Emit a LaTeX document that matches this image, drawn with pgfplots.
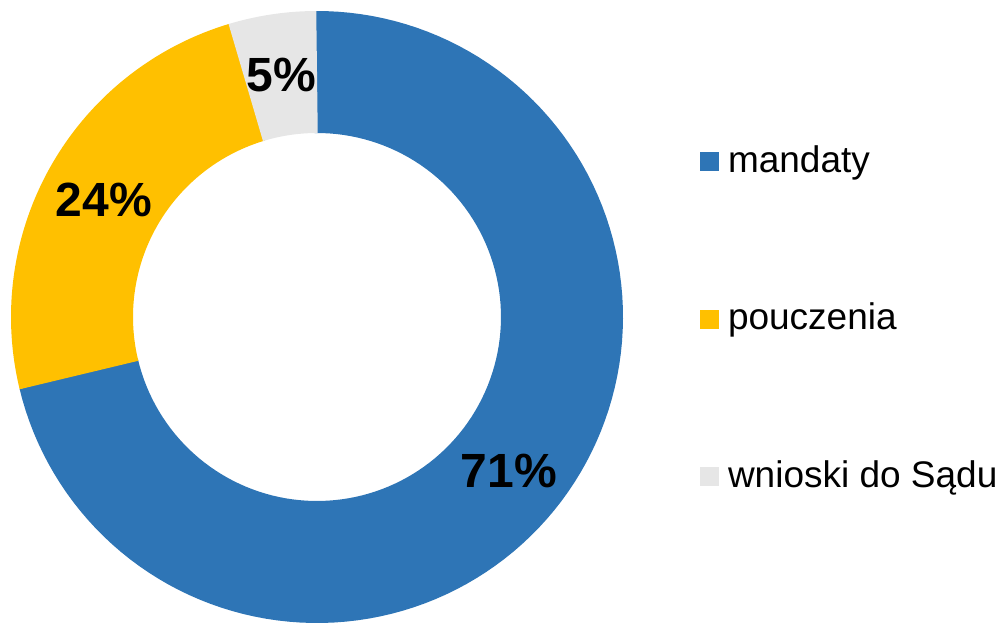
\documentclass[border=0pt]{standalone}
\usepackage{pgfplots}
\pgfplotsset{compat=1.18}
\usepackage{fontspec}
\setmainfont{Liberation Sans}
\definecolor{cBlue}{HTML}{2E75B6}
\definecolor{cYellow}{HTML}{FFC000}
\definecolor{cGray}{HTML}{E6E6E6}
\begin{document}
\begin{tikzpicture}
\begin{axis}[
  scale only axis, width=1004pt, height=622pt,
  xmin=0, xmax=1004, ymin=0, ymax=622,
  hide axis, clip=false,
  legend style={at={(axis cs:700,480)}, anchor=north west, draw=none, fill=none,
    inner sep=0pt, outer sep=0pt, row sep=118.5pt,
    font=\fontsize{37}{44}\selectfont,
    nodes={inner sep=0pt, text height=30pt, text depth=9pt, anchor=base west},
    /tikz/every odd column/.append style={column sep=9pt}},
  legend image code/.code={\fill[#1, draw=none, line width=0pt] (0pt,1pt) rectangle (19pt,20pt);},
  samples=120, line cap=butt,
]
% donut: centre (317,305), mid radius 245, ring width 122
% mandaty 71.2 %, pouczenia 24.1 %, wnioski 4.7 % (clockwise from top)
% (each slice is extended slightly under the next one to avoid seams)
\addplot[cBlue, line width=122pt, domain=-166.6:90.4] ({317+245*cos(x)},{305+245*sin(x)});
\addlegendentry{mandaty}
\addplot[cYellow, line width=122pt, domain=-253.4:-166.3] ({317+245*cos(x)},{305+245*sin(x)});
\addlegendentry{pouczenia}
\addplot[cGray, line width=122pt, domain=-270:-253.1] ({317+245*cos(x)},{305+245*sin(x)});
\addlegendentry{wnioski do Sądu}
\node[font=\fontsize{48}{56}\selectfont\bfseries] at (axis cs:509,151) {71\%};
\node[font=\fontsize{48}{56}\selectfont\bfseries] at (axis cs:104,422) {24\%};
\node[font=\fontsize{48}{56}\selectfont\bfseries] at (axis cs:281,547) {5\%};
\end{axis}
\pgfresetboundingbox
\path[use as bounding box] (current axis.south west) rectangle (current axis.north east);
\end{tikzpicture}
\end{document}
